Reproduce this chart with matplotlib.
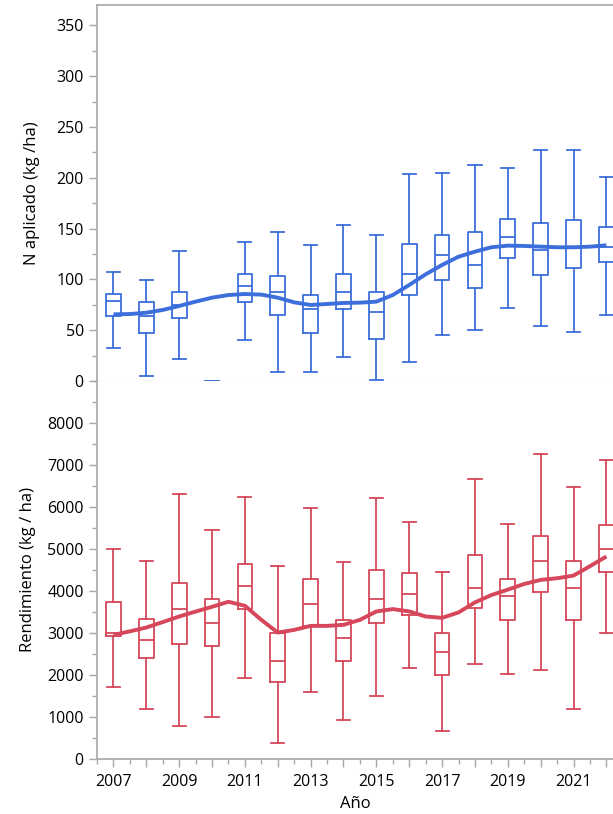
import numpy as np
import matplotlib.pyplot as plt
from matplotlib.ticker import MultipleLocator

years = list(range(2007, 2023))

# N aplicado (kg/ha): whisker low, Q1, median, Q3, whisker high
n_low = [32, 5, 22, 0, 40, 9, 9, 24, 1, 19, 45, 50, 72, 54, 48, 65]
n_q1 = [64, 47, 62, 0, 78, 65, 47, 71, 41, 85, 99, 92, 121, 104, 111, 117]
n_med = [79, 64, 75, 0, 93, 88, 71, 88, 68, 105, 124, 114, 142, 129, 132, 132]
n_q3 = [86, 78, 88, 0, 105, 103, 85, 105, 88, 135, 144, 147, 159, 155, 158, 152]
n_high = [107, 99, 128, 0, 137, 147, 134, 154, 144, 204, 205, 213, 210, 227, 227, 201]

# Rendimiento (kg/ha)
r_low = [1710, 1180, 790, 1000, 1920, 380, 1600, 930, 1490, 2160, 655, 2260, 2020, 2120, 1180, 2990]
r_q1 = [2930, 2410, 2750, 2680, 3560, 1840, 3170, 2330, 3230, 3420, 1990, 3590, 3310, 3980, 3310, 4460]
r_med = [2990, 2830, 3560, 3240, 4120, 2330, 3700, 2870, 3810, 3940, 2550, 4080, 3870, 4710, 4080, 4990]
r_q3 = [3730, 3345, 4190, 3800, 4640, 3000, 4290, 3310, 4500, 4440, 3000, 4850, 4290, 5310, 4710, 5560]
r_high = [4990, 4710, 6315, 5445, 6250, 4600, 5970, 4680, 6220, 5650, 4460, 6675, 5590, 7257, 6470, 7130]

# smoothed trend lines, read at half-year steps
trend_x = np.arange(2007, 2022.01, 0.5)
n_trend = [65.6, 65.9, 67.2, 69.9, 73.8, 78.1, 82.0, 84.6, 85.6, 85.0, 82.0, 77.4,
           74.8, 75.8, 76.8, 77.1, 78.1, 84.6, 94.5, 105.0, 114.2, 122.3, 127.3,
           131.6, 133.2, 132.9, 132.2, 131.6, 131.6, 132.2, 133.5]
r_trend = [2954, 3040, 3130, 3260, 3393, 3510, 3624, 3744, 3648, 3313, 3010, 3074,
           3170, 3170, 3194, 3313, 3513, 3569, 3513, 3393, 3361, 3489, 3729, 3904,
           4032, 4168, 4264, 4304, 4367, 4591, 4822]

blue = '#3d6fdc'
red = '#d6475b'
grey = '#a8a8a8'

plt.rcParams['font.family'] = ['Open Sans', 'DejaVu Sans']

fig = plt.figure(figsize=(6.13, 8.14), dpi=100)
H = 814.0
W = 613.0
ax1 = fig.add_axes([97 / W, 1 - 381 / H, 1 - 97 / W, (381 - 5) / H])
ax2 = fig.add_axes([97 / W, 1 - 759 / H, 1 - 97 / W, (759 - 381) / H])


def make_stats(low, q1, med, q3, high):
    return [dict(whislo=a, q1=b, med=c, q3=d, whishi=e, fliers=[])
            for a, b, c, d, e in zip(low, q1, med, q3, high)]


def draw(ax, stats, trend, color):
    lp = dict(color=color, linewidth=1.3)
    art = ax.bxp(stats, positions=years, widths=0.45, capwidths=0.4,
                 boxprops=lp, whiskerprops=lp, capprops=lp, medianprops=lp,
                 showfliers=False, manage_ticks=False)
    for group in art.values():
        for a in group:
            a.set_clip_on(False)
    ax.plot(trend_x, trend, color=color, linewidth=2.8, solid_capstyle='butt',
            solid_joinstyle='round')


draw(ax1, make_stats(n_low, n_q1, n_med, n_q3, n_high), n_trend, blue)
draw(ax2, make_stats(r_low, r_q1, r_med, r_q3, r_high), r_trend, red)

for ax in (ax1, ax2):
    ax.set_xlim(2006.5, 2022.2)
    ax.spines['right'].set_visible(False)
    ax.spines['left'].set_color(grey)
    ax.spines['left'].set_linewidth(1.2)
    ax.tick_params(axis='y', which='both', colors=grey, labelcolor='black',
                   labelsize=11.5, direction='out')
    ax.tick_params(axis='y', which='major', length=6, width=1)
    ax.tick_params(axis='y', which='minor', length=3.5, width=1)

ax1.set_ylim(0, 370)
ax1.yaxis.set_major_locator(MultipleLocator(50))
ax1.yaxis.set_minor_locator(MultipleLocator(25))
ax1.spines['top'].set_color(grey)
ax1.spines['top'].set_linewidth(1.2)
ax1.spines['bottom'].set_color('#d8d8d8')
ax1.tick_params(axis='x', which='both', bottom=False, labelbottom=False)
ax1.set_ylabel('N aplicado (kg /ha)', fontsize=12, labelpad=12)

ax2.set_ylim(0, 9000)
ax2.set_yticks(range(0, 8001, 1000))
ax2.yaxis.set_minor_locator(MultipleLocator(500))
ax2.spines['top'].set_visible(False)
ax2.spines['bottom'].set_color(grey)
ax2.spines['bottom'].set_linewidth(1.2)
ax2.set_xticks(years)
ax2.set_xticklabels([str(y) if y % 2 == 1 else '' for y in years])
ax2.xaxis.set_minor_locator(MultipleLocator(0.5))
ax2.tick_params(axis='x', which='both', colors=grey, labelcolor='black',
                labelsize=11.5, direction='out', pad=5)
ax2.tick_params(axis='x', which='major', length=6, width=1)
ax2.tick_params(axis='x', which='minor', length=3.5, width=1)
ax2.set_ylabel('Rendimiento (kg / ha)', fontsize=12, labelpad=8)
ax2.set_xlabel('Año', fontsize=12, labelpad=4)

fig.savefig('out.png', dpi=100)
